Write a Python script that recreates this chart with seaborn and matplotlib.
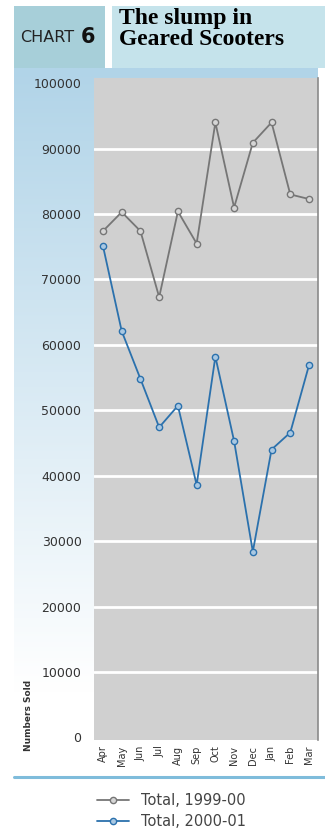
import numpy as np
import pandas as pd
import matplotlib
matplotlib.use("Agg")
import matplotlib.pyplot as plt
import seaborn as sns
from matplotlib.patches import Rectangle
from matplotlib.lines import Line2D
from matplotlib.colors import to_rgb

months = ['Apr', 'May', 'Jun', 'Jul', 'Aug', 'Sep', 'Oct', 'Nov', 'Dec', 'Jan', 'Feb', 'Mar']
total_1999_00 = [77400, 80300, 77400, 67300, 80400, 75500, 94000, 81000, 90900, 94000, 83000, 82300]
total_2000_01 = [75100, 62100, 54800, 47400, 50700, 38600, 58200, 45300, 28400, 44000, 46600, 56900]
series_names = ['Total, 1999-00', 'Total, 2000-01']
y_ticks = [0, 10000, 20000, 30000, 40000, 50000, 60000, 70000, 80000, 90000, 100000]

sns.set_style("white")
plt.rcParams['font.family'] = ['Liberation Sans Narrow', 'DejaVu Sans']

df = pd.DataFrame({
    'idx': list(range(len(months))) * 2,
    'value': total_1999_00 + total_2000_01,
    'series': [series_names[0]] * len(months) + [series_names[1]] * len(months),
})

W, H = 325, 831
fig = plt.figure(figsize=(W / 100, H / 100), dpi=100)

def fx(px):
    return px / W

def fy(py):
    return 1 - py / H

def rect(x0, y0, x1, y1, color, z=0):
    fig.add_artist(Rectangle((fx(x0), fy(y1)), fx(x1) - fx(x0), fy(y0) - fy(y1),
                             transform=fig.transFigure, color=color, lw=0, zorder=z))

# header boxes
rect(14, 6, 105, 68, '#a7cfd9')
rect(112, 6, 325, 68, '#c5e3eb')

# gradient background panel
bg = fig.add_axes([fx(14), fy(776), fx(318) - fx(14), fy(68) - fy(776)])
bg.set_axis_off()
top = np.array(to_rgb('#b1d4e8'))
bot = np.array([1.0, 1.0, 1.0])
t = np.clip(np.linspace(0, 1, 300) / 0.88, 0, 1)[:, None]
grad = (top[None, :] * (1 - t) + bot[None, :] * t)[:, None, :]
bg.imshow(grad, aspect='auto', extent=[0, 1, 0, 1], origin='upper')
bg.set_xlim(0, 1); bg.set_ylim(0, 1)

# separator line
fig.add_artist(Line2D([fx(14), fx(325)], [fy(777), fy(777)], transform=fig.transFigure,
                      color='#7fbcdb', lw=2.2))

fig.text(fx(20), fy(38), 'CHART', fontsize=11.5, color='#222222', va='center', ha='left',
         family=['DejaVu Sans'])
fig.text(fx(81), fy(37), '6', fontsize=15, color='#111111', va='center', ha='left',
         fontweight='bold', family=['DejaVu Sans'])
fig.text(fx(119), fy(8), 'The slump in\nGeared Scooters', fontsize=17, fontweight='bold',
         family=['Liberation Serif'], va='top', ha='left', color='#000000', linespacing=1.02)

ax = fig.add_axes([fx(94), fy(740), fx(318) - fx(94), fy(78) - fy(740)])
ax.set_facecolor('#d0d0d0')
palette = {series_names[0]: '#767676', series_names[1]: '#2b71ad'}
face = {series_names[0]: '#d6d6d6', series_names[1]: '#a9c8e2'}
sns.lineplot(data=df, x='idx', y='value', hue='series', palette=palette, sort=False,
             marker='o', markersize=4.5, linewidth=1.3, ax=ax, legend=False)
for line, name in zip(ax.lines, series_names):
    line.set_markerfacecolor(face[name])
    line.set_markeredgecolor(palette[name])
    line.set_markeredgewidth(1.0)

ax.set_xlim(-0.48, 11.48)
ax.set_ylim(-400, 100800)
ax.set_yticks(y_ticks)
ax.set_yticklabels([str(v) for v in y_ticks], fontsize=9, color='#333333')
ax.set_xticks(range(len(months)))
ax.set_xticklabels(months, rotation=90, fontsize=7, color='#333333')
ax.tick_params(axis='y', length=0, pad=9)
ax.tick_params(axis='x', length=0, pad=4)
ax.grid(axis='y', color='white', lw=2)
ax.grid(axis='x', visible=False)
gl = ax.yaxis.get_gridlines()
gl[0].set_visible(False)
gl[-1].set_visible(False)
ax.set_xlabel('')
ax.set_ylabel('')
for s in ['top', 'left', 'bottom']:
    ax.spines[s].set_visible(False)
ax.spines['right'].set_color('#8a8a8a')
ax.spines['right'].set_linewidth(1.2)

fig.text(fx(29), fy(715), 'Numbers Sold', rotation=90, fontsize=6.5, fontweight='bold',
         color='#333333', va='center', ha='center')

handles = [Line2D([], [], color=palette[n], marker='o', markersize=4.5, lw=1.3,
                  markerfacecolor=face[n], markeredgecolor=palette[n]) for n in series_names]
fig.legend(handles, series_names, loc='upper left', bbox_to_anchor=(fx(84), fy(780)),
           frameon=False, prop={'family': 'DejaVu Sans', 'size': 10.5}, handlelength=2.2,
           labelspacing=0.4, labelcolor='#444444', handletextpad=0.8)

fig.savefig('out.png', dpi=100)
